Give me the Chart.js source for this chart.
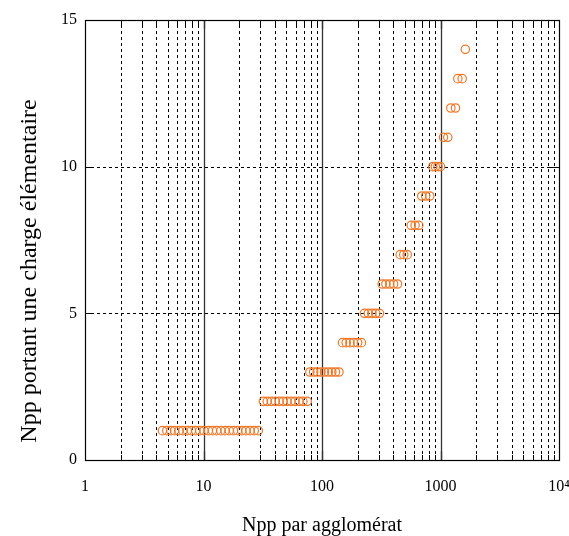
<!DOCTYPE html>
<html>
<head>
<meta charset="utf-8">
<script src="https://cdn.jsdelivr.net/npm/chart.js@4"></script>
<style>
  html, body { margin: 0; padding: 0; background: #fff; }
  #wrap { width: 569px; height: 536px; }
</style>
</head>
<body>
<div id="wrap"><canvas id="chargeChart" width="569" height="536"></canvas></div>
<script>
// Npp par agglomérat (x) et nombre de Npp chargées (y)
const aggloSizes = [
  4.5, 4.9, 5.3, 5.7, 6.2, 6.7, 7.3, 7.9, 8.6, 9.3, 10.1, 11, 11.9, 12.9, 14, 15.2, 16.5, 17.9, 19.4, 21, 22.8, 24.7, 26.8, 29,
  32, 34.5, 37.3, 40.3, 43.5, 47, 50.7, 54.8, 59.2, 64, 69, 75,
  79, 85, 91, 98, 105, 113, 121, 130, 139,
  149, 160, 172, 185, 200, 215,
  228, 246, 264, 284, 306,
  322, 346, 373, 402, 434,
  457, 490, 524,
  566, 610, 656,
  695, 750, 812,
  861, 905, 952, 1000,
  1060, 1152,
  1222, 1339,
  1400, 1524,
  1620
];
const chargedCounts = [
  1, 1, 1, 1, 1, 1, 1, 1, 1, 1, 1, 1, 1, 1, 1, 1, 1, 1, 1, 1, 1, 1, 1, 1,
  2, 2, 2, 2, 2, 2, 2, 2, 2, 2, 2, 2,
  3, 3, 3, 3, 3, 3, 3, 3, 3,
  4, 4, 4, 4, 4, 4,
  5, 5, 5, 5, 5,
  6, 6, 6, 6, 6,
  7, 7, 7,
  8, 8, 8,
  9, 9, 9,
  10, 10, 10, 10,
  11, 11,
  12, 12,
  13, 13,
  14
];

const xDecades = [1, 10, 100, 1000, 10000];
const xTickLabels = ['1', '10', '100', '1000', '10\u2074'];
const yTickValues = [0, 5, 10, 15];
const yTitle = 'Npp portant une charge élémentaire';

const serif = "'Liberation Serif', 'Times New Roman', serif";

// decades plus the 2..9 steps between them
const xGridValues = [];
xDecades.forEach((d, i) => {
  xGridValues.push(d);
  if (i < xDecades.length - 1) {
    for (let k = 2; k <= 9; k++) xGridValues.push(d * k);
  }
});
const isDecade = v => xDecades.includes(v);

// gnuplot-like frame: dashed minor grid, solid decades, inward ticks
const frame = {
  id: 'frame',
  beforeDatasetsDraw(chart) {
    const { ctx, chartArea: a, scales: { x, y } } = chart;
    ctx.save();

    xGridValues.forEach(v => {
      const px = Math.round(x.getPixelForValue(v)) + 0.5;
      if (px <= a.left + 1 || px >= a.right - 1) return;
      const major = isDecade(v);
      ctx.setLineDash(major ? [] : [3, 3]);
      ctx.strokeStyle = major ? '#333' : '#000';
      ctx.lineWidth = major ? 1.3 : 1;
      ctx.beginPath();
      ctx.moveTo(px, a.bottom);
      ctx.lineTo(px, a.top);
      ctx.stroke();
      // short solid ticks top and bottom
      const len = major ? 9 : 5;
      ctx.setLineDash([]);
      ctx.beginPath();
      ctx.moveTo(px, a.bottom); ctx.lineTo(px, a.bottom - len);
      ctx.moveTo(px, a.top); ctx.lineTo(px, a.top + len);
      ctx.stroke();
    });

    ctx.strokeStyle = '#000';
    ctx.lineWidth = 1;
    yTickValues.forEach(v => {
      const py = Math.round(y.getPixelForValue(v)) + 0.5;
      if (py <= a.top + 1 || py >= a.bottom - 1) return;
      ctx.setLineDash([3, 3]);
      ctx.beginPath();
      ctx.moveTo(a.left, py);
      ctx.lineTo(a.right, py);
      ctx.stroke();
      ctx.setLineDash([]);
      ctx.beginPath();
      ctx.moveTo(a.left, py); ctx.lineTo(a.left + 9, py);
      ctx.moveTo(a.right, py); ctx.lineTo(a.right - 9, py);
      ctx.stroke();
    });
    ctx.restore();
  },
  afterDatasetsDraw(chart) {
    const { ctx, chartArea: a } = chart;
    ctx.save();
    ctx.strokeStyle = '#000';
    ctx.lineWidth = 1.2;
    ctx.strokeRect(Math.round(a.left) + 0.5, Math.round(a.top) + 0.5,
      Math.round(a.right - a.left), Math.round(a.bottom - a.top));

    // y title, set a bit lower than the plot centre
    ctx.translate(30, 271);
    ctx.rotate(-Math.PI / 2);
    ctx.fillStyle = '#000';
    ctx.font = '24px ' + serif;
    ctx.textAlign = 'center';
    ctx.textBaseline = 'middle';
    ctx.fillText(yTitle, 0, 0);
    ctx.restore();
  }
};

const points = aggloSizes.map((n, i) => ({ x: n, y: chargedCounts[i] }));

new Chart(document.getElementById('chargeChart'), {
  type: 'scatter',
  data: {
    datasets: [{
      data: points,
      pointStyle: 'circle',
      pointRadius: 4.2,
      pointHoverRadius: 4.2,
      borderColor: '#f07828',
      backgroundColor: 'rgba(0,0,0,0)',
      borderWidth: 1.2
    }]
  },
  options: {
    responsive: false,
    animation: false,
    layout: { padding: { top: 20, right: 10, left: 0, bottom: 0 } },
    plugins: { legend: { display: false }, tooltip: { enabled: false } },
    scales: {
      x: {
        type: 'logarithmic',
        min: 1,
        max: 10000,
        afterBuildTicks: s => { s.ticks = xDecades.map(v => ({ value: v })); },
        afterFit: s => { s.height = 76; s.paddingLeft = 0; s.paddingRight = 0; },
        grid: { display: false, drawTicks: false },
        border: { display: false },
        ticks: {
          autoSkip: false,
          maxRotation: 0,
          padding: 17,
          color: '#000',
          font: { family: serif, size: 16 },
          callback: v => xTickLabels[xDecades.indexOf(v)] ?? ''
        },
        title: {
          display: true,
          text: 'Npp par agglomérat',
          color: '#000',
          font: { family: serif, size: 20, lineHeight: 1.05 },
          padding: { top: 0, bottom: 0 }
        }
      },
      y: {
        min: 0,
        max: 15,
        afterBuildTicks: s => { s.ticks = yTickValues.map(v => ({ value: v })); },
        afterFit: s => { s.width = 85; s.paddingTop = 0; s.paddingBottom = 0; },
        grid: { display: false, drawTicks: false },
        border: { display: false },
        ticks: {
          padding: 8,
          color: '#000',
          font: { family: serif, size: 16 }
        }
      }
    }
  },
  plugins: [frame]
});
</script>
</body>
</html>
